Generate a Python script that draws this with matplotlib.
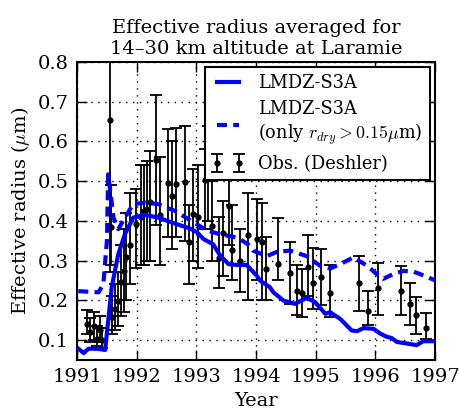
"""Effective radius averaged for 14-30 km altitude at Laramie."""
import matplotlib
matplotlib.use('Agg')
import matplotlib.pyplot as plt
import numpy as np

plt.rcParams['font.family'] = 'DejaVu Serif'
plt.rcParams['mathtext.fontset'] = 'cm'

# model, all particles
model_t = [1991.02, 1991.11, 1991.19, 1991.32, 1991.47, 1991.58, 1991.69, 1991.80, 1991.94,
           1992.14, 1992.36, 1992.64, 1992.89, 1993.01, 1993.12, 1993.28, 1993.40, 1993.54,
           1993.68, 1993.84, 1994.01, 1994.07, 1994.23, 1994.29, 1994.46, 1994.65, 1994.85,
           1994.99, 1995.16, 1995.24, 1995.41, 1995.60, 1995.69, 1995.80, 1995.97, 1996.08,
           1996.19, 1996.27, 1996.36, 1996.53, 1996.69, 1996.80, 1997.00]
model_r = [0.078, 0.067, 0.078, 0.078, 0.075, 0.233, 0.316, 0.366, 0.408,
           0.415, 0.408, 0.393, 0.381, 0.371, 0.354, 0.341, 0.312, 0.291,
           0.289, 0.289, 0.262, 0.249, 0.233, 0.220, 0.199, 0.191, 0.206,
           0.195, 0.166, 0.170, 0.153, 0.124, 0.122, 0.130, 0.128, 0.116,
           0.108, 0.105, 0.095, 0.091, 0.087, 0.097, 0.097]

# model, only r_dry > 0.15 um
dry_t = [1991.02, 1991.36, 1991.44, 1991.50, 1991.52, 1991.57, 1991.61, 1991.69, 1991.80,
         1991.94, 1992.14, 1992.36, 1992.64, 1992.78, 1993.01, 1993.17, 1993.40, 1993.68,
         1993.73, 1993.90, 1993.95, 1994.18, 1994.35, 1994.57, 1994.85, 1995.07, 1995.24,
         1995.41, 1995.63, 1995.86, 1996.02, 1996.13, 1996.30, 1996.47, 1996.64, 1996.78,
         1997.00]
dry_r = [0.223, 0.220, 0.241, 0.350, 0.517, 0.458, 0.408, 0.379, 0.408,
         0.442, 0.446, 0.442, 0.425, 0.412, 0.391, 0.376, 0.366, 0.358,
         0.354, 0.337, 0.325, 0.311, 0.322, 0.325, 0.311, 0.287, 0.280,
         0.291, 0.308, 0.287, 0.266, 0.254, 0.266, 0.274, 0.272, 0.264,
         0.250]

# observations (Deshler): time, value, lower bound, upper bound
obs_t = [1991.17, 1991.22, 1991.29, 1991.33, 1991.39, 1991.42, 1991.55, 1991.56, 1991.59,
         1991.63, 1991.68, 1991.73, 1991.78, 1991.82, 1991.88, 1991.99, 1992.07, 1992.12,
         1992.17, 1992.22, 1992.33, 1992.39, 1992.53, 1992.59, 1992.66, 1992.80, 1992.88,
         1992.95, 1993.03, 1993.14, 1993.19, 1993.26, 1993.38, 1993.45, 1993.55, 1993.59,
         1993.73, 1993.87, 1994.01, 1994.10, 1994.17, 1994.37, 1994.57, 1994.69, 1994.77,
         1994.87, 1994.96, 1995.09, 1995.23, 1995.73, 1995.87, 1996.05, 1996.43, 1996.58,
         1996.68, 1996.85]
obs_r = [0.141, 0.121, 0.134, 0.103, 0.124, 0.099, 0.655, 0.385, 0.158,
         0.178, 0.199, 0.245, 0.274, 0.308, 0.340, 0.393, 0.410, 0.425,
         0.429, 0.447, 0.554, 0.414, 0.496, 0.462, 0.494, 0.498, 0.347,
         0.418, 0.409, 0.503, 0.524, 0.388, 0.306, 0.369, 0.437, 0.327,
         0.300, 0.365, 0.354, 0.346, 0.279, 0.291, 0.269, 0.224, 0.218,
         0.284, 0.244, 0.258, 0.219, 0.243, 0.174, 0.231, 0.224, 0.191,
         0.163, 0.130]
obs_lo = [0.115, 0.095, 0.100, 0.085, 0.095, 0.080, 0.270, 0.290, 0.115,
          0.125, 0.135, 0.160, 0.170, 0.200, 0.240, 0.280, 0.290, 0.290,
          0.300, 0.300, 0.390, 0.290, 0.360, 0.330, 0.360, 0.350, 0.240,
          0.300, 0.280, 0.380, 0.400, 0.300, 0.230, 0.260, 0.340, 0.250,
          0.220, 0.200, 0.250, 0.200, 0.200, 0.250, 0.191, 0.162, 0.158,
          0.210, 0.178, 0.187, 0.158, 0.173, 0.137, 0.163, 0.162, 0.137,
          0.116, 0.103]
obs_hi = [0.175, 0.155, 0.170, 0.135, 0.160, 0.130, 1.000, 0.490, 0.210,
          0.240, 0.270, 0.340, 0.380, 0.420, 0.470, 0.480, 0.540, 0.540,
          0.550, 0.575, 0.716, 0.560, 0.630, 0.600, 0.635, 0.640, 0.440,
          0.530, 0.540, 0.580, 0.640, 0.500, 0.410, 0.450, 0.520, 0.440,
          0.380, 0.470, 0.455, 0.445, 0.360, 0.406, 0.347, 0.289, 0.279,
          0.365, 0.331, 0.329, 0.290, 0.311, 0.224, 0.295, 0.287, 0.244,
          0.208, 0.168]

obs_r = np.array(obs_r)
yerr = [obs_r - np.array(obs_lo), np.array(obs_hi) - obs_r]

fig = plt.figure(figsize=(4.59, 4.16), dpi=100)
ax = fig.add_axes([0.168, 0.135, 0.78, 0.716])

ax.plot(model_t, model_r, color='#0000ff', lw=3, label='LMDZ-S3A', zorder=3)
ax.plot(dry_t, dry_r, color='#0000ff', lw=3, ls=(0, (2.4, 1.5)),
        label='LMDZ-S3A\n(only $r_{dry}>0.15\\mu$m)', zorder=3)
ax.errorbar(obs_t, obs_r, yerr=yerr, fmt='o', color='k', ms=3.5, lw=1.3,
            capsize=4.5, capthick=1.3, label='Obs. (Deshler)', zorder=2)

ax.set_xlim(1991, 1997)
ax.set_ylim(0.05, 0.8)
ax.set_xticks(range(1991, 1998))
ax.set_yticks([0.1, 0.2, 0.3, 0.4, 0.5, 0.6, 0.7, 0.8])
ax.grid(True, ls=(0, (1, 4)), color='k', lw=1)
ax.tick_params(direction='in', length=7, width=1, top=True, right=True,
               labelsize=14, pad=6)
for s in ax.spines.values():
    s.set_linewidth(1.5)

ax.set_xlabel('Year', fontsize=14)
ax.set_ylabel('Effective radius ($\\mu$m)', fontsize=14)
ax.set_title('Effective radius averaged for\n14\u201330 km altitude at Laramie',
             fontsize=14, pad=6)

leg = ax.legend(loc='upper right', fontsize=12.8, numpoints=2, handlelength=1.8,
                fancybox=False, framealpha=1, edgecolor='k', borderaxespad=0.3,
                labelspacing=0.45)
leg.get_frame().set_linewidth(1.5)

plt.savefig('out.png', dpi=100)
